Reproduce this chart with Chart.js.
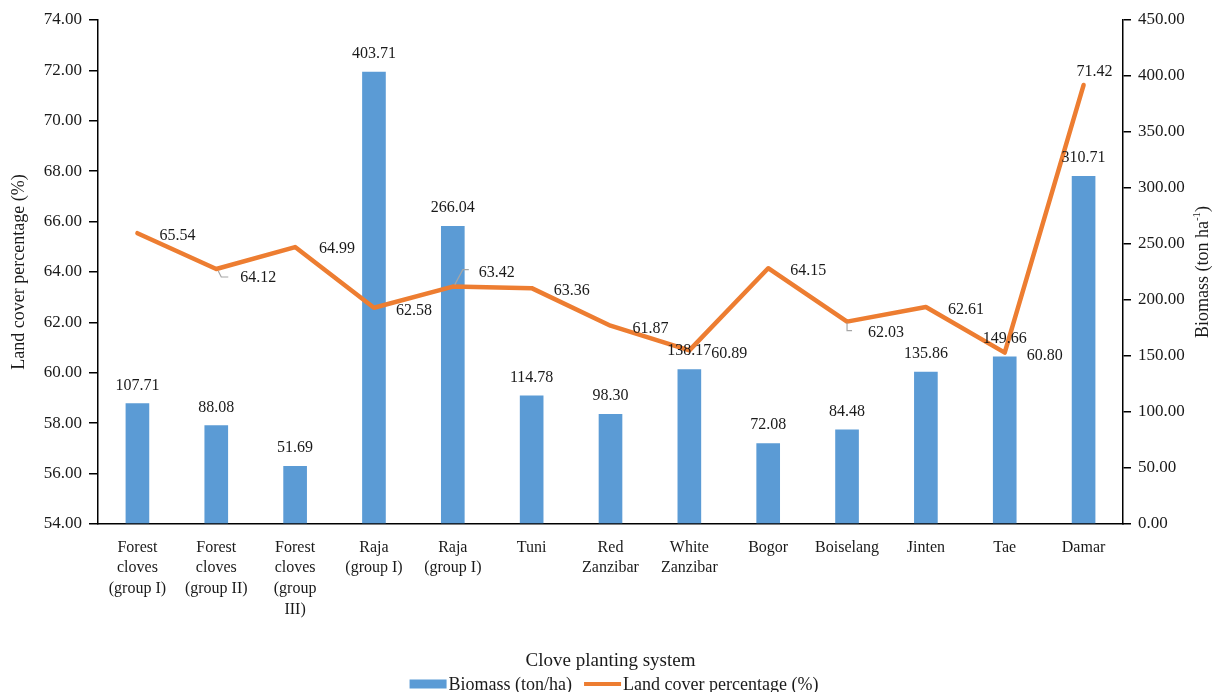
<!DOCTYPE html>
<html>
<head>
<meta charset="utf-8">
<script src="https://cdn.jsdelivr.net/npm/chart.js@4.4.1/dist/chart.umd.min.js"></script>
<style>
  html, body { margin: 0; padding: 0; background: #fff; }
  canvas { display: block; }
</style>
</head>
<body>
<canvas id="chart" width="1217" height="692"></canvas>
<script>
// Clove planting systems (multi-line category labels)
const categories = [
  ['Forest', 'cloves', '(group I)'],
  ['Forest', 'cloves', '(group II)'],
  ['Forest', 'cloves', '(group', 'III)'],
  ['Raja', '(group I)'],
  ['Raja', '(group I)'],
  'Tuni',
  ['Red', 'Zanzibar'],
  ['White', 'Zanzibar'],
  'Bogor',
  'Boiselang',
  'Jinten',
  'Tae',
  'Damar'
];

// Biomass (ton/ha) – bars on the right axis
const biomass = [107.71, 88.08, 51.69, 403.71, 266.04, 114.78, 98.30, 138.17, 72.08, 84.48, 135.86, 149.66, 310.71];

// Land cover percentage (%) – line on the left axis
const landCover = [65.54, 64.12, 64.99, 62.58, 63.42, 63.36, 61.87, 60.89, 64.15, 62.03, 62.61, 60.80, 71.42];

const seriesNames = ['Biomass (ton/ha)', 'Land cover percentage (%)'];
const xTitle = 'Clove planting system';
const leftTitle = 'Land cover percentage (%)';
const rightTitle = ['Biomass (ton ha', '-1', ')'];

const SERIF = "'Liberation Serif', 'Times New Roman', serif";
const INK = '#1a1a1a';
const BAR_COLOR = '#5B9BD5';
const LINE_COLOR = '#ED7D31';

// Draws value labels, leader lines, the right-hand axis title and the legend
const annotations = {
  id: 'annotations',
  afterDatasetsDraw(chart, args, opts) {
    const ctx = chart.ctx;
    ctx.save();
    ctx.font = `16px ${SERIF}`;
    ctx.fillStyle = INK;
    ctx.textBaseline = 'middle';

    // bar values, centred above each bar
    const barMeta = chart.getDatasetMeta(0);
    ctx.textAlign = 'center';
    barMeta.data.forEach((bar, i) => {
      ctx.fillText(biomass[i].toFixed(2), bar.x, bar.y - 18);
    });

    // line values, to the right of each point unless adjusted
    const lineMeta = chart.getDatasetMeta(1);
    ctx.textAlign = 'left';
    lineMeta.data.forEach((pt, i) => {
      const adj = opts.lineLabelShift[i] || {};
      const dx = adj.dx !== undefined ? adj.dx : 22;
      const dy = adj.dy !== undefined ? adj.dy : 3;
      ctx.fillText(landCover[i].toFixed(2), pt.x + dx, pt.y + dy);
      if (adj.leader) {
        ctx.save();
        ctx.strokeStyle = '#a6a6a6';
        ctx.lineWidth = 1.2;
        ctx.beginPath();
        adj.leader.forEach(([lx, ly], k) => {
          if (k === 0) ctx.moveTo(pt.x + lx, pt.y + ly);
          else ctx.lineTo(pt.x + lx, pt.y + ly);
        });
        ctx.stroke();
        ctx.restore();
      }
    });
    ctx.restore();
  },
  afterDraw(chart) {
    const ctx = chart.ctx;
    const area = chart.chartArea;
    ctx.save();
    ctx.fillStyle = INK;
    ctx.textBaseline = 'middle';

    // right axis title, reading bottom to top, with superscript
    const big = `18px ${SERIF}`;
    const small = `11px ${SERIF}`;
    ctx.font = big;
    const w0 = ctx.measureText(rightTitle[0]).width;
    const w2 = ctx.measureText(rightTitle[2]).width;
    ctx.font = small;
    const w1 = ctx.measureText(rightTitle[1]).width;
    const total = w0 + w1 + w2;
    ctx.translate(1203, (area.top + area.bottom) / 2);
    ctx.rotate(-Math.PI / 2);
    ctx.textAlign = 'left';
    let x = -total / 2;
    ctx.font = big;
    ctx.fillText(rightTitle[0], x, 0);
    x += w0;
    ctx.font = small;
    ctx.fillText(rightTitle[1], x, -6);
    x += w1;
    ctx.font = big;
    ctx.fillText(rightTitle[2], x, 0);
    ctx.setTransform(1, 0, 0, 1, 0, 0);

    // legend along the bottom
    ctx.font = `18px ${SERIF}`;
    const t0 = ctx.measureText(seriesNames[0]).width;
    const t1 = ctx.measureText(seriesNames[1]).width;
    const sw = 37, gap = 2, between = 12;
    const legendW = sw + gap + t0 + between + sw + gap + t1;
    let lx = 614 - legendW / 2;
    const ly = 684;
    ctx.fillStyle = BAR_COLOR;
    ctx.fillRect(lx, ly - 4.5, sw, 9);
    lx += sw + gap;
    ctx.fillStyle = INK;
    ctx.fillText(seriesNames[0], lx, ly + 1);
    lx += t0 + between;
    ctx.strokeStyle = LINE_COLOR;
    ctx.lineWidth = 4;
    ctx.beginPath();
    ctx.moveTo(lx, ly);
    ctx.lineTo(lx + sw, ly);
    ctx.stroke();
    lx += sw + gap;
    ctx.fillText(seriesNames[1], lx, ly + 1);
    ctx.restore();
  }
};

const axisTickFont = { family: SERIF, size: 17 };

new Chart(document.getElementById('chart'), {
  data: {
    labels: categories,
    datasets: [
      {
        type: 'bar',
        label: seriesNames[0],
        data: biomass,
        yAxisID: 'yBio',
        backgroundColor: BAR_COLOR,
        barPercentage: 0.3,
        categoryPercentage: 1,
        order: 2
      },
      {
        type: 'line',
        label: seriesNames[1],
        data: landCover,
        yAxisID: 'yLand',
        borderColor: LINE_COLOR,
        borderWidth: 4.5,
        borderJoinStyle: 'round',
        borderCapStyle: 'round',
        pointRadius: 0,
        tension: 0,
        fill: false,
        order: 1
      }
    ]
  },
  options: {
    responsive: false,
    animation: false,
    devicePixelRatio: 1,
    layout: { padding: { top: 20, left: 0, right: 0, bottom: 20 } },
    plugins: {
      legend: { display: false },
      tooltip: { enabled: false },
      annotations: {
        lineLabelShift: {
          1: { dx: 24, dy: 9, leader: [[2, 2], [5, 8], [12, 8]] },
          2: { dx: 24, dy: 2 },
          4: { dx: 26, dy: -14, leader: [[2, -2], [10, -17], [16, -17]] },
          9: { dx: 21, dy: 11, leader: [[0, 1], [0, 9], [5, 9]] },
          12: { dx: -7, dy: -13 }
        }
      }
    },
    scales: {
      x: {
        grid: { display: false },
        border: { display: true, color: '#000', width: 1.5 },
        ticks: {
          font: { family: SERIF, size: 16, lineHeight: 1.3 },
          color: INK,
          padding: 5,
          maxRotation: 0,
          autoSkip: false
        },
        title: {
          display: true,
          text: xTitle,
          font: { family: SERIF, size: 19 },
          color: INK,
          padding: 0
        },
        afterFit(scale) { scale.height = 148; }
      },
      yLand: {
        position: 'left',
        min: 54,
        max: 74,
        ticks: {
          stepSize: 2,
          callback: v => Number(v).toFixed(2),
          font: axisTickFont,
          color: INK,
          padding: 7
        },
        grid: { drawOnChartArea: false, color: '#000', tickLength: 9, lineWidth: 1.5 },
        border: { display: true, color: '#000', width: 1.5 },
        title: {
          display: true,
          text: leftTitle,
          font: { family: SERIF, size: 18 },
          color: INK,
          padding: { top: 8, bottom: 0 }
        },
        afterFit(scale) { scale.width = 98; }
      },
      yBio: {
        position: 'right',
        min: 0,
        max: 450,
        ticks: {
          stepSize: 50,
          callback: v => Number(v).toFixed(2),
          font: axisTickFont,
          color: INK,
          padding: 7
        },
        grid: { drawOnChartArea: false, color: '#000', tickLength: 8, lineWidth: 1.5 },
        border: { display: true, color: '#000', width: 1.5 },
        afterFit(scale) { scale.width = 94; }
      }
    }
  },
  plugins: [annotations]
});
</script>
</body>
</html>
